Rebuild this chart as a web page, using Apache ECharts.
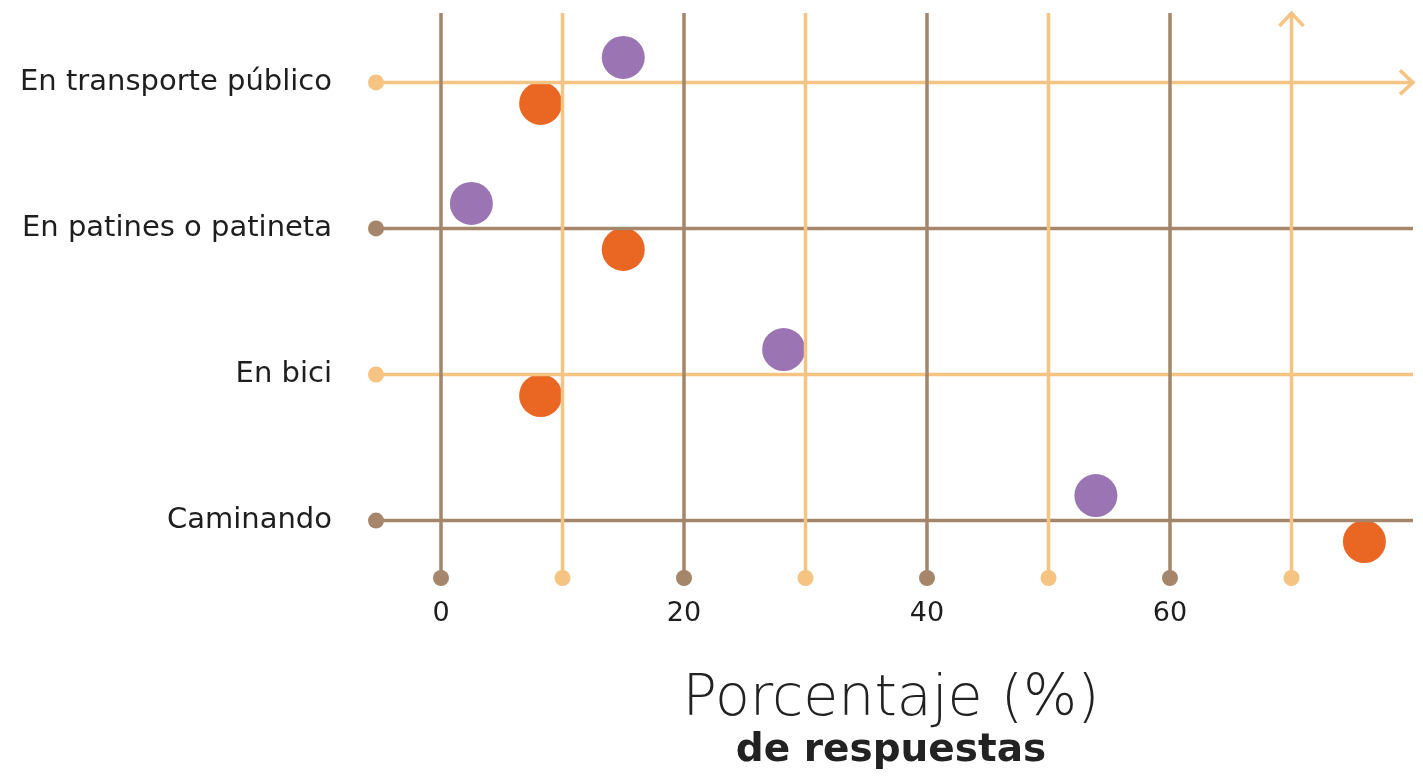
<!DOCTYPE html>
<html>
<head>
<meta charset="utf-8">
<script src="https://cdn.jsdelivr.net/npm/echarts@6/dist/echarts.min.js"></script>
<style>
  html, body { margin: 0; padding: 0; background: #ffffff; }
  #chart { width: 1423px; height: 777px; }
</style>
</head>
<body>
<div id="chart"></div>
<script>
// ---- data ----
const categories = ['En transporte público', 'En patines o patineta', 'En bici', 'Caminando'];
const purpleValues = [15, 2.5, 28.2, 53.9];
const orangeValues = [8.2, 15, 8.2, 76];
const xTickLabels = [0, 20, 40, 60];
const xGridValues = [0, 10, 20, 30, 40, 50, 60, 70];
const rowValues = [3, 2, 1, 0]; // positions of categories on the y scale (top to bottom)

// ---- style ----
const BROWN = '#A5866A';
const LIGHT = '#F5C382';
const PURPLE = '#9B75B3';
const ORANGE = '#EA6723';
const X_MIN = -5.35, X_MAX = 80;
const Y_MIN = -0.393, Y_MAX = 3.475;
const FONT = 'DejaVu Sans';

const chart = echarts.init(document.getElementById('chart'));

const vertData = xGridValues.map(v => [v]);
const horizData = rowValues.map(v => [v]);

const option = {
  backgroundColor: '#ffffff',
  animation: false,
  grid: { left: 376, right: 10, top: 13, bottom: 199 },
  xAxis: {
    type: 'value', min: X_MIN, max: X_MAX,
    axisLine: { show: false }, axisTick: { show: false }, splitLine: { show: false },
    axisLabel: {
      customValues: xTickLabels,
      margin: 22,
      fontFamily: FONT, fontSize: 27, color: '#1e1e1e'
    }
  },
  yAxis: {
    type: 'value', min: Y_MIN, max: Y_MAX,
    axisLine: { show: false }, axisTick: { show: false }, splitLine: { show: false },
    axisLabel: {
      customValues: rowValues,
      formatter: v => categories[rowValues.indexOf(v)],
      margin: 44,
      padding: [0, 0, 8, 0],
      fontFamily: FONT, fontSize: 29, color: '#1e1e1e'
    }
  },
  graphic: [
    { type: 'text', style: { text: 'Porcentaje (%)', x: 891, y: 700, align: 'center', verticalAlign: 'middle', fontFamily: FONT, fontWeight: 200, fontSize: 57, fill: '#222222' } },
    { type: 'text', style: { text: 'de respuestas', x: 891, y: 751, align: 'center', verticalAlign: 'middle', fontFamily: FONT, fontWeight: 'bold', fontSize: 39, fill: '#222222' } }
  ],
  series: [
    {
      name: 'Morado', type: 'scatter', z: 1,
      symbol: 'circle', symbolSize: 43, symbolOffset: [0, -25],
      itemStyle: { color: PURPLE, opacity: 1 },
      data: purpleValues.map((v, i) => [v, rowValues[i]])
    },
    {
      name: 'Naranja', type: 'scatter', z: 1,
      symbol: 'circle', symbolSize: 43, symbolOffset: [0, 21],
      itemStyle: { color: ORANGE, opacity: 1 },
      data: orangeValues.map((v, i) => [v, rowValues[i]])
    },
    {
      name: 'horiz', type: 'custom', z: 3, silent: true, clip: false,
      data: horizData,
      renderItem: function (params, api) {
        const r = api.value(0);
        const a = api.coord([X_MIN, r]);
        const b = api.coord([X_MAX, r]);
        const color = (params.dataIndex % 2 === 0) ? LIGHT : BROWN;
        const children = [
          { type: 'line', shape: { x1: a[0], y1: a[1], x2: b[0], y2: b[1] }, style: { stroke: color, lineWidth: 3.5 } },
          { type: 'circle', shape: { cx: a[0], cy: a[1], r: 8 }, style: { fill: color } }
        ];
        if (params.dataIndex === 0) {
          children.push({ type: 'polyline', shape: { points: [[b[0] - 13, b[1] - 12], [b[0], b[1]], [b[0] - 13, b[1] + 12]] }, style: { stroke: color, lineWidth: 3.5, fill: null } });
        }
        return { type: 'group', children: children };
      }
    },
    {
      name: 'vert', type: 'custom', z: 4, silent: true, clip: false,
      data: vertData,
      renderItem: function (params, api) {
        const v = api.value(0);
        const t = api.coord([v, Y_MAX]);
        const b = api.coord([v, Y_MIN]);
        const color = (params.dataIndex % 2 === 0) ? BROWN : LIGHT;
        const children = [
          { type: 'line', shape: { x1: t[0], y1: t[1], x2: b[0], y2: b[1] }, style: { stroke: color, lineWidth: 3.5 } },
          { type: 'circle', shape: { cx: b[0], cy: b[1], r: 8 }, style: { fill: color } }
        ];
        if (params.dataIndex === xGridValues.length - 1) {
          children.push({ type: 'polyline', shape: { points: [[t[0] - 12, t[1] + 13], [t[0], t[1]], [t[0] + 12, t[1] + 13]] }, style: { stroke: color, lineWidth: 3.5, fill: null } });
        }
        return { type: 'group', children: children };
      }
    }
  ]
};
chart.setOption(option);
</script>
</body>
</html>
